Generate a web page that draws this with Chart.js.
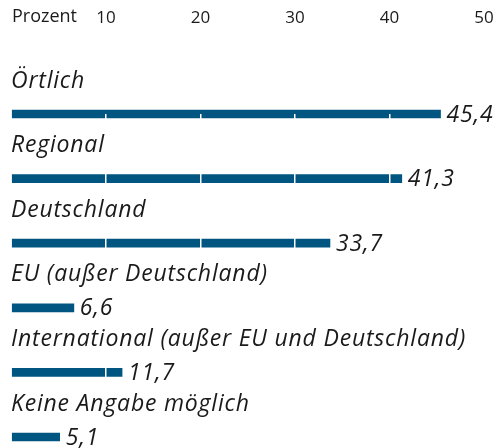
<!DOCTYPE html>
<html>
<head>
<meta charset="utf-8">
<script src="https://cdn.jsdelivr.net/npm/chart.js@4/dist/chart.umd.min.js"></script>
<style>
  body { margin: 0; background: #fff; }
</style>
</head>
<body>
<canvas id="myChart" width="502" height="448"></canvas>
<script>
const categories = [
    'Örtlich',
    'Regional',
    'Deutschland',
    'EU (außer Deutschland)',
    'International (außer EU und Deutschland)',
    'Keine Angabe möglich'
]
const values = [45.4, 41.3, 33.7, 6.6, 11.7, 5.1]
const tickValues = [0, 10, 20, 30, 40, 50]
const tickLabels = ['', '10', '20', '30', '40', '50']
const axisTitle = 'Prozent'

const barColor = '#005581'
const textColor = '#1a1a1a'
const italicFont = 'italic 23px "Open Sans"'

// draws category names above the bars, values after them and the "Prozent" label
// (afterDraw so the white grid lines don't cut through the text)
const labelPlugin = {
    id: 'labels',
    afterDraw(chart) {
        const ctx = chart.ctx
        const meta = chart.getDatasetMeta(0)
        ctx.save()
        ctx.fillStyle = textColor
        ctx.font = italicFont
        ctx.textBaseline = 'middle'
        ctx.textAlign = 'left'
        ctx.letterSpacing = '0.8px'
        meta.data.forEach((bar, i) => {
            ctx.fillText(categories[i], 11, bar.y - 33)
            ctx.fillText(values[i].toFixed(1).replace('.', ','), bar.x + 6, bar.y + 1)
        })
        ctx.letterSpacing = '0px'
        ctx.font = '18px "Open Sans"'
        ctx.fillText(axisTitle, 12, 17)
        ctx.restore()
    }
}

const data = {
    labels: categories,
    datasets: [{
        label: 'Prozent',
        data: values,
        backgroundColor: barColor,
        barThickness: 8,
        clip: false
    }]
}

const config = {
    type: 'bar',
    data: data,
    options: {
        indexAxis: 'y',
        responsive: false,
        animation: false,
        layout: {
            padding: { left: 11.5, right: 18, top: 0, bottom: 11 }
        },
        plugins: {
            legend: { display: false },
            tooltip: { enabled: false }
        },
        scales: {
            x: {
                position: 'top',
                min: 0,
                max: 50,
                afterBuildTicks(scale) {
                    scale.ticks = tickValues.map(v => ({ value: v }))
                },
                afterFit(scale) {
                    scale.height = 114
                    scale.paddingLeft = 0
                    scale.paddingRight = 0
                },
                border: { display: false },
                grid: {
                    z: 1,
                    drawTicks: false,
                    lineWidth: 1.5,
                    color: ctx => (ctx.tick && ctx.tick.value > 0 && ctx.tick.value < 50) ? '#ffffff' : 'rgba(0,0,0,0)'
                },
                ticks: {
                    padding: 86,
                    maxRotation: 0,
                    autoSkip: false,
                    color: textColor,
                    font: { family: 'Open Sans', size: 17 },
                    callback: (v, i) => tickLabels[i]
                }
            },
            y: {
                display: false,
                offset: false
            }
        }
    },
    plugins: [labelPlugin]
}

const myChart = new Chart(document.getElementById('myChart'), config)
</script>
</body>
</html>
